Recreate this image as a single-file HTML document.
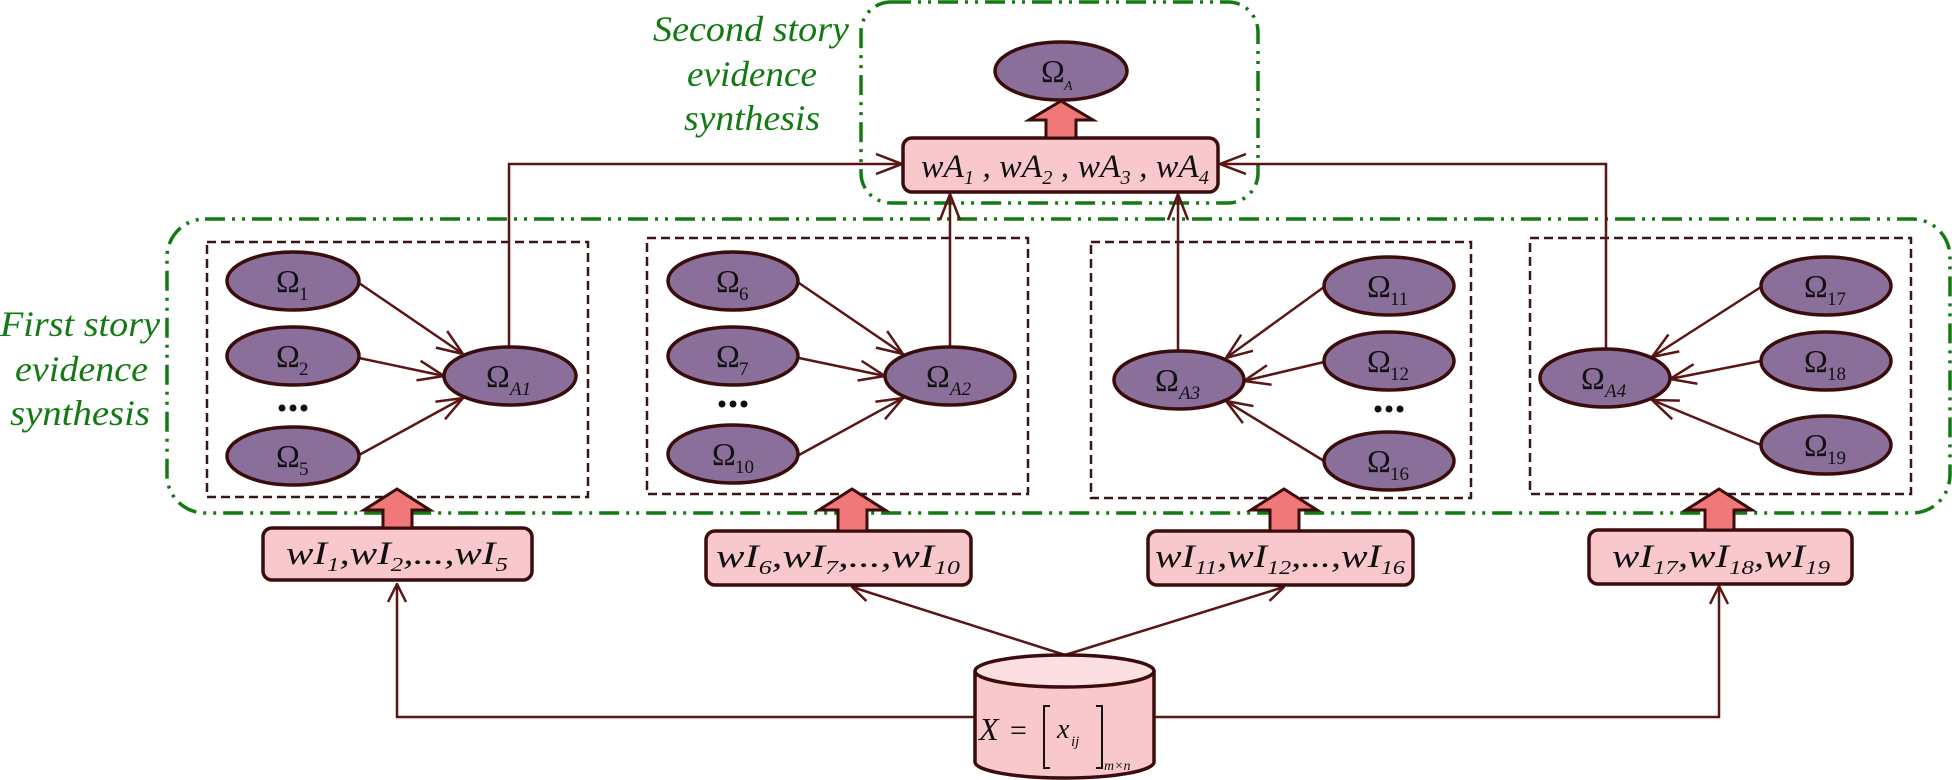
<!DOCTYPE html>
<html><head><meta charset="utf-8"><style>
html,body{margin:0;padding:0;background:#fff;}
svg{display:block;}
.e{fill:#8a6f9b;stroke:#3a0c0c;stroke-width:3.5;}
.bx{fill:#f9c8cc;stroke:#3a0c0c;stroke-width:3.5;}
.ba{fill:#f07878;stroke:#3a0c0c;stroke-width:3;}
.ln{stroke:#5a1515;stroke-width:2.5;fill:none;}
.dash{fill:none;stroke:#3a1515;stroke-width:2.5;stroke-dasharray:9 5;}
.gr{fill:none;stroke:#137a13;stroke-width:3.5;stroke-dasharray:20 7 3 7 3 7;}
.om{font-family:"Liberation Serif",serif;font-size:32px;fill:#111;}
.sb{font-family:"Liberation Serif",serif;font-size:19px;fill:#111;}
.w{font-family:"Liberation Serif",serif;font-style:italic;font-size:33px;fill:#111;}
.g{font-family:"Liberation Serif",serif;font-style:italic;font-size:36px;fill:#137a13;}
</style></head><body>
<svg width="1952" height="780" viewBox="0 0 1952 780" xmlns="http://www.w3.org/2000/svg">
<defs>
<marker id="a" viewBox="0 0 20 20" refX="19" refY="10" markerWidth="20" markerHeight="20" markerUnits="userSpaceOnUse" orient="auto">
<path d="M1,1 L19,10 L1,19" stroke="#5a1515" stroke-width="2.5" fill="none"/>
</marker>
<marker id="b" viewBox="0 0 28 28" refX="27" refY="14" markerWidth="28" markerHeight="28" markerUnits="userSpaceOnUse" orient="auto">
<path d="M1,4 L27,14 L1,24" stroke="#5a1515" stroke-width="2.5" fill="none"/>
</marker>
</defs>

<rect class="gr" x="861" y="2" width="397" height="201" rx="30"/>
<rect class="gr" x="167" y="219" width="1783" height="294" rx="38"/>
<text class="g" x="653" y="41" textLength="196" lengthAdjust="spacingAndGlyphs">Second story</text>
<text class="g" x="687" y="86" textLength="130" lengthAdjust="spacingAndGlyphs">evidence</text>
<text class="g" x="684" y="130" textLength="136" lengthAdjust="spacingAndGlyphs">synthesis</text>
<text class="g" x="0" y="336" textLength="160" lengthAdjust="spacingAndGlyphs">First story</text>
<text class="g" x="15" y="381" textLength="133" lengthAdjust="spacingAndGlyphs">evidence</text>
<text class="g" x="10" y="425" textLength="140" lengthAdjust="spacingAndGlyphs">synthesis</text>

<rect class="dash" x="207" y="242" width="381" height="255"/>
<rect class="dash" x="647" y="238" width="381" height="256"/>
<rect class="dash" x="1091" y="242" width="380" height="256"/>
<rect class="dash" x="1530" y="238" width="381" height="256"/>

<path class="ln" d="M509,347 V164 H902" marker-end="url(#b)"/>
<path class="ln" d="M1606,349 V164 H1220" marker-end="url(#b)"/>
<path class="ln" d="M950,347 V194" marker-end="url(#b)"/>
<path class="ln" d="M1178,351 V194" marker-end="url(#b)"/>

<line class="ln" x1="359" y1="283" x2="463" y2="354" marker-end="url(#b)"/>
<line class="ln" x1="359" y1="358" x2="444" y2="376" marker-end="url(#b)"/>
<line class="ln" x1="359" y1="455" x2="463" y2="398" marker-end="url(#b)"/>
<line class="ln" x1="799" y1="283" x2="903" y2="354" marker-end="url(#b)"/>
<line class="ln" x1="799" y1="358" x2="885" y2="376" marker-end="url(#b)"/>
<line class="ln" x1="799" y1="455" x2="903" y2="398" marker-end="url(#b)"/>
<line class="ln" x1="1324" y1="287" x2="1226" y2="358" marker-end="url(#b)"/>
<line class="ln" x1="1324" y1="362" x2="1244" y2="381" marker-end="url(#b)"/>
<line class="ln" x1="1324" y1="461" x2="1226" y2="401" marker-end="url(#b)"/>
<line class="ln" x1="1761" y1="287" x2="1652" y2="357" marker-end="url(#b)"/>
<line class="ln" x1="1761" y1="361" x2="1670" y2="379" marker-end="url(#b)"/>
<line class="ln" x1="1761" y1="445" x2="1652" y2="400" marker-end="url(#b)"/>

<ellipse class="e" cx="293" cy="281" rx="66" ry="29"/>
<ellipse class="e" cx="293" cy="356" rx="66" ry="29"/>
<ellipse class="e" cx="293" cy="456" rx="66" ry="29"/>
<ellipse class="e" cx="510" cy="376" rx="66" ry="29"/>
<ellipse class="e" cx="733" cy="281" rx="65" ry="29"/>
<ellipse class="e" cx="733" cy="356" rx="65" ry="29"/>
<ellipse class="e" cx="733" cy="454" rx="65" ry="29"/>
<ellipse class="e" cx="950" cy="376" rx="65" ry="29"/>
<ellipse class="e" cx="1389" cy="286" rx="65" ry="29"/>
<ellipse class="e" cx="1389" cy="361" rx="65" ry="29"/>
<ellipse class="e" cx="1389" cy="461" rx="65" ry="29"/>
<ellipse class="e" cx="1179" cy="380" rx="65" ry="29"/>
<ellipse class="e" cx="1826" cy="286" rx="65" ry="29"/>
<ellipse class="e" cx="1826" cy="361" rx="65" ry="29"/>
<ellipse class="e" cx="1826" cy="445" rx="65" ry="29"/>
<ellipse class="e" cx="1605" cy="378" rx="65" ry="29"/>
<ellipse class="e" cx="1061" cy="71" rx="66" ry="29"/>

<g class="om">
<text x="276" y="292">Ω</text><text class="sb" x="299" y="300">1</text>
<text x="276" y="367">Ω</text><text class="sb" x="299" y="375">2</text>
<text x="276" y="467">Ω</text><text class="sb" x="299" y="475">5</text>
<text x="486" y="387">Ω</text><text class="sb" x="510" y="395" style="font-style:italic">A1</text>
<text x="716" y="292">Ω</text><text class="sb" x="739" y="300">6</text>
<text x="716" y="367">Ω</text><text class="sb" x="739" y="375">7</text>
<text x="712" y="465">Ω</text><text class="sb" x="735" y="473">10</text>
<text x="926" y="387">Ω</text><text class="sb" x="950" y="395" style="font-style:italic">A2</text>
<text x="1367" y="297">Ω</text><text class="sb" x="1390" y="305">11</text>
<text x="1367" y="372">Ω</text><text class="sb" x="1390" y="380">12</text>
<text x="1367" y="472">Ω</text><text class="sb" x="1390" y="480">16</text>
<text x="1155" y="391">Ω</text><text class="sb" x="1179" y="399" style="font-style:italic">A3</text>
<text x="1804" y="297">Ω</text><text class="sb" x="1827" y="305">17</text>
<text x="1804" y="372">Ω</text><text class="sb" x="1827" y="380">18</text>
<text x="1804" y="456">Ω</text><text class="sb" x="1827" y="464">19</text>
<text x="1581" y="389">Ω</text><text class="sb" x="1605" y="397" style="font-style:italic">A4</text>
<text x="1041" y="82">Ω</text><text class="sb" x="1064" y="90" style="font-style:italic;font-size:14px">A</text>
</g>
<g fill="#111">
<circle cx="282" cy="408" r="3.5"/><circle cx="293" cy="408" r="3.5"/><circle cx="304" cy="408" r="3.5"/>
<circle cx="722" cy="404" r="3.5"/><circle cx="733" cy="404" r="3.5"/><circle cx="744" cy="404" r="3.5"/>
<circle cx="1378" cy="409" r="3.5"/><circle cx="1389" cy="409" r="3.5"/><circle cx="1400" cy="409" r="3.5"/>
</g>

<rect class="bx" x="903" y="138" width="315" height="54" rx="9"/>
<path class="ba" d="M1046,138 V120 H1029 L1061,101 L1093,120 H1076 V138 Z"/>
<text class="w" x="921" y="177" textLength="288" lengthAdjust="spacingAndGlyphs">wA<tspan style="font-size:20px" dy="7">1</tspan><tspan dy="-7"> , wA</tspan><tspan style="font-size:20px" dy="7">2</tspan><tspan dy="-7"> , wA</tspan><tspan style="font-size:20px" dy="7">3</tspan><tspan dy="-7"> , wA</tspan><tspan style="font-size:20px" dy="7">4</tspan></text>

<path class="ln" d="M975,717 H397 V584" marker-end="url(#a)"/>
<path class="ln" d="M1154,717 H1719 V586" marker-end="url(#a)"/>
<line class="ln" x1="1065" y1="655" x2="852" y2="587" marker-end="url(#a)"/>
<line class="ln" x1="1065" y1="655" x2="1284" y2="587" marker-end="url(#a)"/>

<rect class="bx" x="263" y="528" width="269" height="52" rx="9"/>
<rect class="bx" x="706" y="531" width="265" height="54" rx="9"/>
<rect class="bx" x="1148" y="531" width="265" height="54" rx="9"/>
<rect class="bx" x="1589" y="530" width="263" height="54" rx="9"/>
<path class="ba" d="M383,528 V510 H364 L397,489 L430,510 H412 V528 Z"/>
<path class="ba" d="M838,531 V510 H819 L852,489 L885,510 H867 V531 Z"/>
<path class="ba" d="M1270,531 V510 H1251 L1284,489 L1317,510 H1299 V531 Z"/>
<path class="ba" d="M1705,530 V510 H1686 L1719,489 L1752,510 H1734 V530 Z"/>
<text class="w" x="286" y="564" textLength="222" lengthAdjust="spacingAndGlyphs">wI<tspan style="font-size:20px" dy="7">1</tspan><tspan dy="-7">,wI</tspan><tspan style="font-size:20px" dy="7">2</tspan><tspan dy="-7">,...,wI</tspan><tspan style="font-size:20px" dy="7">5</tspan></text>
<text class="w" x="716" y="567" textLength="244" lengthAdjust="spacingAndGlyphs">wI<tspan style="font-size:20px" dy="7">6</tspan><tspan dy="-7">,wI</tspan><tspan style="font-size:20px" dy="7">7</tspan><tspan dy="-7">,...,wI</tspan><tspan style="font-size:20px" dy="7">10</tspan></text>
<text class="w" x="1155" y="567" textLength="250" lengthAdjust="spacingAndGlyphs">wI<tspan style="font-size:20px" dy="7">11</tspan><tspan dy="-7">,wI</tspan><tspan style="font-size:20px" dy="7">12</tspan><tspan dy="-7">,...,wI</tspan><tspan style="font-size:20px" dy="7">16</tspan></text>
<text class="w" x="1612" y="567" textLength="218" lengthAdjust="spacingAndGlyphs">wI<tspan style="font-size:20px" dy="7">17</tspan><tspan dy="-7">,wI</tspan><tspan style="font-size:20px" dy="7">18</tspan><tspan dy="-7">,wI</tspan><tspan style="font-size:20px" dy="7">19</tspan></text>

<path d="M975,671 V762 A89.5,16 0 0 0 1154,762 V671" fill="#f9c8cc" stroke="#3a0c0c" stroke-width="3.5"/>
<ellipse cx="1064.5" cy="671" rx="89.5" ry="16" fill="#fbdfe1" stroke="#3a0c0c" stroke-width="3.5"/>
<text class="w" x="979" y="740" style="font-size:32px">X</text>
<text x="1010" y="740" style="font-family:'Liberation Serif',serif;font-size:30px;fill:#111">=</text>
<path d="M1050,706 h-6 v62 h6 M1096,706 h6 v62 h-6" stroke="#111" stroke-width="2" fill="none"/>
<text class="w" x="1057" y="738" style="font-size:28px">x</text>
<text class="w" x="1071" y="746" style="font-size:15px">ij</text>
<text class="w" x="1104" y="770" style="font-size:14px">m×n</text>
</svg>
</body></html>
